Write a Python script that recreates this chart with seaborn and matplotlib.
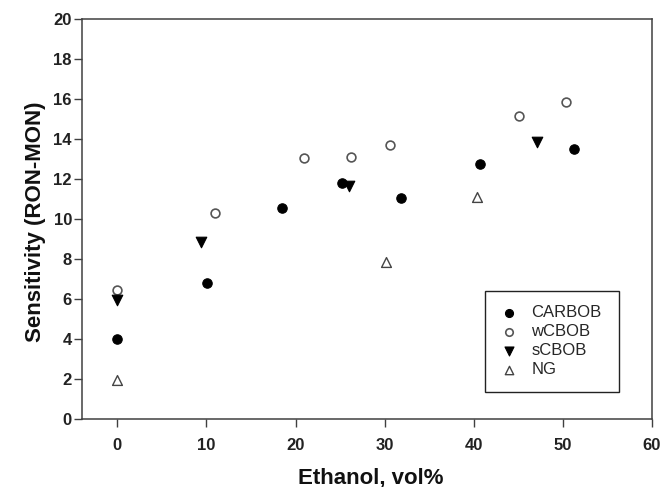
import matplotlib
matplotlib.use("Agg")
import matplotlib.pyplot as plt
import seaborn as sns
import pandas as pd

# ---- data ----
carbob_x = [0, 10.1, 18.5, 25.2, 31.8, 40.7, 51.2]
carbob_y = [4.0, 6.83, 10.58, 11.83, 11.05, 12.75, 13.52]

wcbob_x = [0, 11.0, 20.9, 26.2, 30.6, 45.1, 50.3]
wcbob_y = [6.45, 10.33, 13.05, 13.13, 13.72, 15.17, 15.85]

scbob_x = [0, 9.4, 26.0, 47.1]
scbob_y = [5.95, 8.88, 11.67, 13.88]

ng_x = [0, 30.2, 40.4]
ng_y = [1.97, 7.88, 11.13]

series_names = ["CARBOB", "wCBOB", "sCBOB", "NG"]
x_ticks = [0, 10, 20, 30, 40, 50, 60]
y_ticks = [0, 2, 4, 6, 8, 10, 12, 14, 16, 18, 20]
x_label = "Ethanol, vol%"
y_label = "Sensitivity (RON-MON)"

frames = []
for name, xs, ys in zip(series_names,
                        [carbob_x, wcbob_x, scbob_x, ng_x],
                        [carbob_y, wcbob_y, scbob_y, ng_y]):
    frames.append(pd.DataFrame({"ethanol": xs, "sens": ys, "fuel": name}))
df = pd.concat(frames, ignore_index=True)

sns.set_theme(style="white")
plt.rcParams["font.family"] = ["Liberation Sans", "DejaVu Sans"]

W, H = 662, 487
fig = plt.figure(figsize=(W / 100, H / 100), dpi=100)
left, right, top, bottom = 81.7, 652.0, 19.3, 419.3
ax = fig.add_axes([left / W, (H - bottom) / H, (right - left) / W, (bottom - top) / H])

styles = {
    "CARBOB": dict(marker="o", s=46, color="black", edgecolor="black", linewidth=0.8),
    "wCBOB": dict(marker="o", s=40, color="white", edgecolor="#555555", linewidth=1.2),
    "sCBOB": dict(marker="v", s=58, color="black", edgecolor="black", linewidth=0.8),
    "NG": dict(marker="^", s=50, color="white", edgecolor="#444444", linewidth=1.0),
}

for name in series_names:
    sub = df[df["fuel"] == name]
    sns.scatterplot(data=sub, x="ethanol", y="sens", ax=ax, label=name,
                    legend=False, zorder=3, **styles[name])

ax.set_xlim(-4, 60)
ax.set_ylim(0, 20)
ax.set_xticks(x_ticks)
ax.set_yticks(y_ticks)

for sp in ax.spines.values():
    sp.set_color("#404040")
    sp.set_linewidth(1.1)
    sp.set_visible(True)

ax.tick_params(axis="both", which="major", direction="out", length=5.5, width=1.0,
               color="#404040", labelsize=12, labelcolor="#222222")
ax.tick_params(axis="y", pad=1.5, left=True)
ax.tick_params(axis="x", pad=8, bottom=True)
for lab in ax.get_xticklabels() + ax.get_yticklabels():
    lab.set_fontweight("bold")

ax.set_xlabel(x_label, fontsize=16, fontweight="bold", color="#111111")
ax.set_ylabel(y_label, fontsize=16, fontweight="bold", color="#111111")
ax.xaxis.set_label_coords((370.7 - left) / (right - left), -(478 - bottom) / (bottom - top))
ax.yaxis.set_label_coords(-(left - 36) / (right - left), (bottom - 222) / (bottom - top))
ax.xaxis.label.set_va("center")
ax.yaxis.label.set_va("center")

handles, labels = ax.get_legend_handles_labels()
leg = ax.legend(handles, labels,
                loc="upper left",
                bbox_to_anchor=((485 - left) / (right - left), (bottom - 291) / (bottom - top),
                                (619 - 485) / (right - left), 0),
                mode="expand", borderaxespad=0, fontsize=12,
                frameon=True, fancybox=False, shadow=False,
                borderpad=0.84, labelspacing=0.25, handlelength=1.25,
                handletextpad=0.7, framealpha=1, markerscale=0.85)
leg.get_frame().set_edgecolor("#222222")
leg.get_frame().set_linewidth(1.0)

fig.savefig("out.png", dpi=100)
